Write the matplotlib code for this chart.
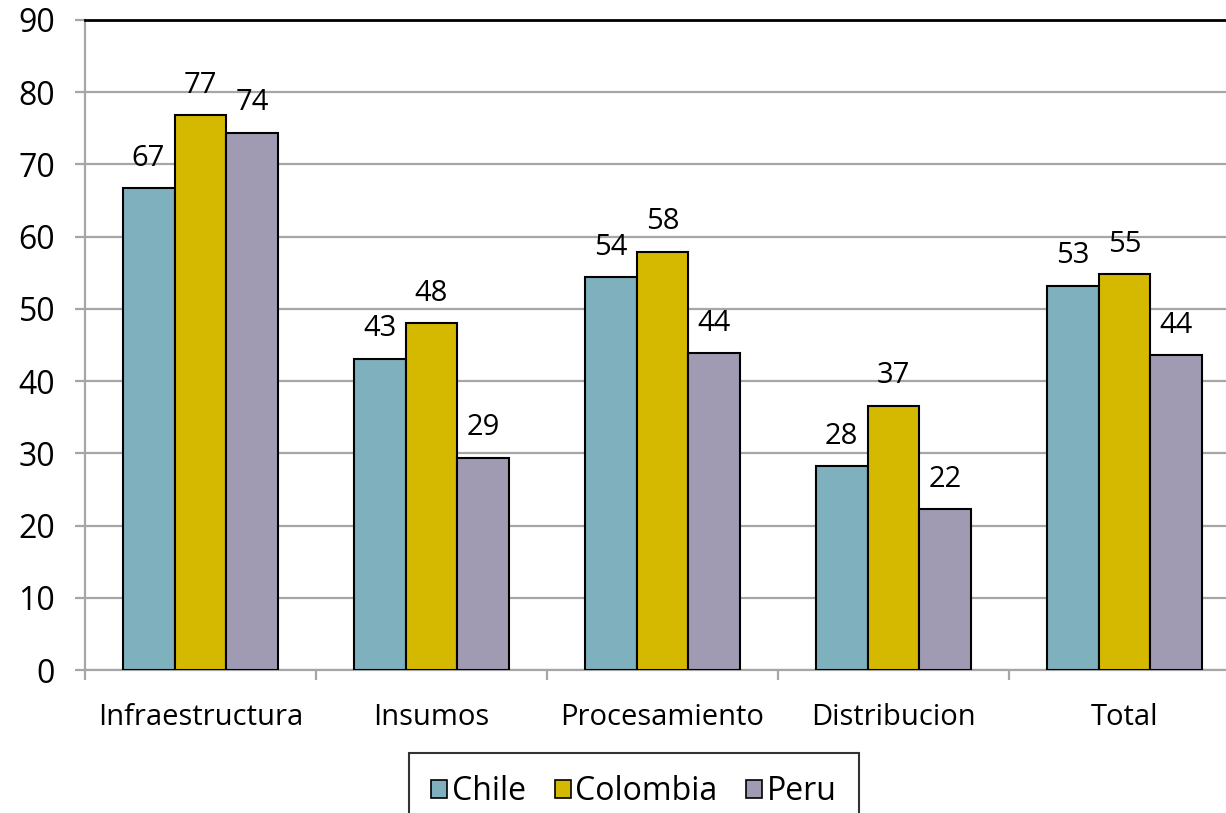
import matplotlib
matplotlib.use("Agg")
import matplotlib.pyplot as plt
import matplotlib.patches as mpatches
import numpy as np

categories = ["Infraestructura", "Insumos", "Procesamiento", "Distribucion", "Total"]
series_names = ["Chile", "Colombia", "Peru"]
chile = [66.7, 43.1, 54.4, 28.2, 53.2]
colombia = [76.8, 48.0, 57.9, 36.6, 54.8]
peru = [74.4, 29.4, 43.9, 22.3, 43.6]
colors = ["#7FB0BE", "#D5B900", "#A09BB3"]
yticks = list(range(0, 91, 10))

plt.rcParams['font.family'] = ['Open Sans', 'DejaVu Sans']
FS = 21

fig = plt.figure(figsize=(12.26, 8.13), dpi=100)
ax = fig.add_axes([85/1226, 1-670/813, 1155/1226, 650/813])

x = np.arange(len(categories))
w = 0.225
for i, (vals, c) in enumerate(zip([chile, colombia, peru], colors)):
    pos = x + (i-1)*w
    ax.bar(pos, vals, width=w, color=c, edgecolor='black', linewidth=1.5, zorder=3)
    for px, v in zip(pos, vals):
        ax.annotate(f"{round(v)}", (px, v), xytext=(0, 21.5), textcoords='offset points',
                    ha='center', va='center', fontsize=FS, color='black', zorder=4)

ax.set_xlim(-0.5, len(categories)-0.5)
ax.set_ylim(0, 90)
ax.set_yticks(yticks)
ax.yaxis.grid(True, color='#A6A6A6', linewidth=1.6, zorder=0)
ax.set_axisbelow(True)

ax.set_xticks(np.arange(-0.5, len(categories), 1.0))
ax.set_xticklabels([])
ax.set_xticks(x, minor=True)
ax.set_xticklabels(categories, minor=True, fontsize=FS)
ax.tick_params(axis='x', which='major', length=7.5, width=1.6, color='#A6A6A6', direction='out')
ax.tick_params(axis='x', which='minor', length=0, pad=24)
ax.tick_params(axis='y', length=7.5, width=1.6, color='#A6A6A6', direction='out', pad=14, labelsize=23)

ax.spines['right'].set_visible(False)
ax.spines['left'].set_color('#A6A6A6')
ax.spines['left'].set_linewidth(1.6)
ax.spines['bottom'].set_color('#A6A6A6')
ax.spines['bottom'].set_linewidth(1.6)
ax.spines['top'].set_color('black')
ax.spines['top'].set_linewidth(2)

handles = [mpatches.Patch(facecolor=c, edgecolor='black', linewidth=1.2) for c in colors]
leg = fig.legend(handles, series_names, loc='upper center', bbox_to_anchor=(634/1226, 1-753/813),
                 ncol=3, fontsize=23, frameon=True, fancybox=False, edgecolor='black',
                 handlelength=0.5, handleheight=0.5, handletextpad=0.15, columnspacing=0.9,
                 borderpad=0.7, borderaxespad=0)
leg.get_frame().set_linewidth(1.5)

fig.savefig("out.png", dpi=100)
